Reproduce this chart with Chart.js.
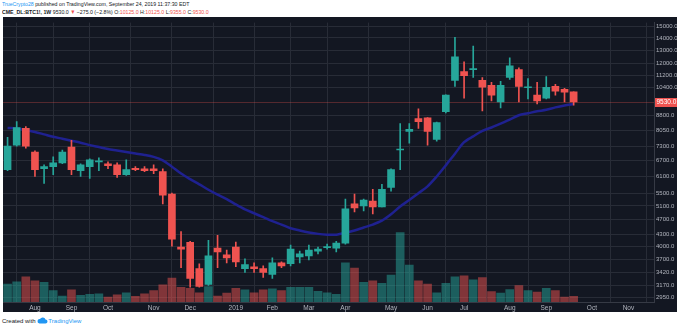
<!DOCTYPE html>
<html>
<head>
<meta charset="utf-8">
<script src="https://cdn.jsdelivr.net/npm/chart.js@4.4.1/dist/chart.umd.min.js"></script>
<style>
  html, body { margin: 0; padding: 0; background: #fff; }
  body { width: 680px; height: 328px; position: relative; overflow: hidden;
         font-family: "Liberation Sans", Arial, sans-serif; color: #131722; }
  #head1, #head2 { position: absolute; left: 2px; font-size: 6px; white-space: nowrap;
         transform: scaleX(0.87); transform-origin: left top; }
  #head1 { top: 1px; }
  #head2 { top: 9px; }
  #head1 .user { color: #2196f3; }
  #head2 b { font-weight: bold; }
  .dn { color: #ef5350; }
  #chart { position: absolute; left: 3px; top: 17px; }
  #foot { position: absolute; left: 2px; top: 317px; font-size: 6px; white-space: nowrap; }
  #foot .tv { color: #2196f3; }
  #foot svg { vertical-align: -1px; }
</style>
</head>
<body>
<div id="head1"><span class="user">TrueCrypto28</span> published on TradingView.com, September 24, 2019 11:37:30 EDT</div>
<div id="head2"><b>CME_DL:BTC1!, 1W</b> 9530.0 <span class="dn">▼</span> −275.0 (−2.8%) O:<span class="dn">10125.0</span> H:<span class="dn">10125.0</span> L:<span class="dn">9355.0</span> C:<span class="dn">9530.0</span></div>
<canvas id="chart" width="674" height="295"></canvas>
<div id="foot">Created with <svg width="11" height="7" viewBox="0 0 22 14"><path d="M5 13h12a4 4 0 0 0 0-8 6 6 0 0 0-11-1 4.5 4.5 0 0 0-1 9z" fill="#2196f3"/></svg><span class="tv">TradingView</span></div>

<script>
// weekly bars, CME bitcoin front month
const weeks = [
  '2018-07-16','2018-07-23','2018-07-30','2018-08-06','2018-08-13','2018-08-20','2018-08-27',
  '2018-09-03','2018-09-10','2018-09-17','2018-09-24','2018-10-01','2018-10-08','2018-10-15',
  '2018-10-22','2018-10-29','2018-11-05','2018-11-12','2018-11-19','2018-11-26','2018-12-03',
  '2018-12-10','2018-12-17','2018-12-24','2018-12-31','2019-01-07','2019-01-14','2019-01-21',
  '2019-01-28','2019-02-04','2019-02-11','2019-02-18','2019-02-25','2019-03-04','2019-03-11',
  '2019-03-18','2019-03-25','2019-04-01','2019-04-08','2019-04-15','2019-04-22','2019-04-29',
  '2019-05-06','2019-05-13','2019-05-20','2019-05-27','2019-06-03','2019-06-10','2019-06-17',
  '2019-06-24','2019-07-01','2019-07-08','2019-07-15','2019-07-22','2019-07-29','2019-08-05',
  '2019-08-12','2019-08-19','2019-08-26','2019-09-02','2019-09-09','2019-09-16','2019-09-23'
];
const opens = [
  6345, 7350, 8130, 7055, 6380, 6460, 6610, 7265, 6310, 6460,
  6650, 6575, 6535, 6160, 6400, 6380, 6380, 6270, 5475, 3985,
  4100, 3500, 3185, 3960, 3800, 3985, 3500, 3540, 3500, 3380,
  3625, 3605, 3755, 3780, 3890, 3970, 3960, 4080, 5165, 5100,
  5255, 5070, 5705, 7140, 7985, 8620, 8670, 7615, 8985, 10850,
  11440, 11575, 10850, 10535, 9530, 11040, 11575, 10380, 9930, 9755,
  10470, 10290, 10125
];
const highs = [
  7710, 8470, 8225, 7100, 6535, 6850, 7140, 7570, 6575, 6770,
  6810, 6650, 6610, 6730, 6460, 6460, 6535, 6380, 5510, 4375,
  4125, 3605, 4150, 4275, 3915, 4105, 3710, 3625, 3560, 3735,
  3645, 4030, 3890, 4030, 3985, 4055, 4125, 5315, 5475, 5315,
  5640, 5810, 6380, 8370, 8370, 9145, 8680, 8440, 9950, 14060,
  12135, 13330, 11040, 10720, 10785, 12425, 11710, 10975, 10720, 11105,
  10595, 10350, 10125
];
const lows = [
  6310, 7310, 7225, 6090, 5845, 6160, 6575, 6160, 6090, 6020,
  6310, 6380, 6055, 6125, 6310, 6270, 6195, 5165, 4005, 3520,
  3130, 3130, 3165, 3520, 3625, 3540, 3420, 3420, 3320, 3300,
  3520, 3560, 3625, 3690, 3825, 3935, 3870, 4055, 4925, 4955,
  4865, 5070, 5575, 6345, 7440, 8125, 7355, 7530, 8930, 10470,
  9755, 11040, 9035, 9585, 9200, 10910, 9530, 9700, 9415, 9700,
  9930, 9530, 9355
];
const closes = [
  7310, 8175, 7310, 6345, 6460, 6610, 7055, 6345, 6535, 6730,
  6690, 6495, 6160, 6345, 6345, 6310, 6310, 5445, 4175, 3935,
  3300, 3145, 3780, 3870, 3735, 3645, 3585, 3500, 3420, 3625,
  3560, 3935, 3825, 3915, 3935, 3985, 4080, 5015, 5040, 5285,
  5070, 5640, 6345, 7160, 8080, 8470, 7985, 8420, 9930, 12495,
  11170, 11640, 10410, 9930, 10535, 11850, 10470, 10410, 9585, 10410,
  10165, 10105, 9530
];
const volumes = [
  18400, 20700, 25700, 21700, 20000, 11700, 6000, 12400, 6700, 7700,
  8400, 5000, 7400, 9400, 5700, 8400, 11700, 17400, 24400, 15000,
  14000, 9400, 15700, 6000, 9000, 14000, 12400, 9400, 12400, 13400,
  11700, 15000, 15000, 15000, 11000, 9400, 7700, 40000, 34700, 20000,
  21700, 19000, 27400, 70700, 37700, 21700, 18400, 9400, 19000, 25700,
  26700, 22700, 25000, 10700, 9000, 12700, 16700, 11700, 10000, 14000,
  11700, 5000, 5700
];
const ma = [
  8150, 8127, 8055, 7960, 7845, 7730, 7640, 7550, 7460, 7353,
  7267, 7182, 7120, 7055, 6993, 6932, 6850, 6711, 6458, 6197,
  5993, 5808, 5624, 5460, 5317, 5148, 4998, 4882, 4768, 4657,
  4562, 4463, 4403, 4351, 4313, 4293, 4293, 4339, 4403, 4482,
  4562, 4670, 4853, 5087, 5286, 5508, 5741, 6089, 6511, 6985,
  7484, 7753, 8008, 8175, 8370, 8569, 8800, 8904, 9010, 9090,
  9225, 9334, 9417
];
const priceTicks = [15000, 14000, 13000, 12000, 11200, 10400, 8800, 8050, 7300, 6700,
  6100, 5500, 5100, 4700, 4300, 4000, 3700, 3420, 3170, 2950];
// week index of the first bar of each month
const monthTicks = [3, 7, 11, 16, 20, 25, 29, 33, 37, 42, 46, 50, 55, 59, 64, 68];
const monthLabels = ['Aug', 'Sep', 'Oct', 'Nov', 'Dec', '2019', 'Feb', 'Mar', 'Apr',
  'May', 'Jun', 'Jul', 'Aug', 'Sep', 'Oct', 'Nov'];

const UP = '#26a69a';
const DOWN = '#ef5350';
const BG = '#131722';
const GRID = '#282c37';
const TEXT = '#b2b5be';

const up = opens.map((o, i) => closes[i] >= o);
const candleColors = up.map(u => u ? UP : DOWN);
const volColors = up.map(u => u ? 'rgba(38,166,154,0.5)' : 'rgba(239,83,80,0.5)');
const last = closes.length - 1;

const background = {
  id: 'background',
  beforeDraw(chart) {
    const c = chart.ctx;
    c.save();
    c.fillStyle = BG;
    c.fillRect(0, 0, chart.width, chart.height);
    c.restore();
  }
};

// last price line behind the bars, tag on the price scale
const lastPrice = {
  id: 'lastPrice',
  beforeDatasetsDraw(chart) {
    const a = chart.chartArea;
    const y = Math.round(chart.scales.y.getPixelForValue(closes[last])) + 0.5;
    const c = chart.ctx;
    c.save();
    c.strokeStyle = 'rgba(239,83,80,0.3)';
    c.lineWidth = 1;
    c.beginPath();
    c.moveTo(a.left, y);
    c.lineTo(a.right, y);
    c.stroke();
    c.restore();
  },
  afterDraw(chart) {
    const a = chart.chartArea;
    const y = chart.scales.y.getPixelForValue(closes[last]);
    const c = chart.ctx;
    c.save();
    c.fillStyle = DOWN;
    c.fillRect(a.right + 1, Math.round(y) - 4, 22, 9);
    c.fillStyle = '#fff';
    c.font = '6.5px "Liberation Sans", Arial, sans-serif';
    c.textBaseline = 'middle';
    c.fillText(closes[last].toFixed(1), a.right + 2.5, Math.round(y) + 0.5);
    c.restore();
  }
};

new Chart(document.getElementById('chart'), {
  type: 'bar',
  data: {
    datasets: [
      {
        label: 'body',
        data: opens.map((o, i) => ({ x: i, y: [o, closes[i]] })),
        backgroundColor: candleColors,
        barThickness: 7,
        minBarLength: 1,
        grouped: false,
        order: 1
      },
      {
        label: 'wick',
        data: lows.map((l, i) => ({ x: i, y: [l, highs[i]] })),
        backgroundColor: candleColors,
        barThickness: 1,
        grouped: false,
        order: 2
      },
      {
        type: 'line',
        label: 'MA',
        data: ma.map((v, i) => ({ x: i, y: v })),
        borderColor: '#1f2190',
        borderWidth: 2.5,
        pointRadius: 0,
        tension: 0.3,
        order: 3
      },
      {
        label: 'Volume',
        data: volumes.map((v, i) => ({ x: i, y: v })),
        backgroundColor: volColors,
        barThickness: 8,
        grouped: false,
        yAxisID: 'vol',
        order: 4
      }
    ]
  },
  options: {
    responsive: false,
    animation: false,
    devicePixelRatio: 1,
    layout: { padding: 0 },
    plugins: { legend: { display: false }, tooltip: { enabled: false } },
    scales: {
      x: {
        type: 'linear',
        min: -0.5,
        max: 70.8,
        offset: false,
        afterBuildTicks(scale) {
          scale.ticks = monthTicks.map(v => ({ value: v }));
        },
        afterFit(scale) { scale.height = 10; },
        ticks: {
          autoSkip: false,
          maxRotation: 0,
          padding: 2,
          color: TEXT,
          font: { size: 6.5, family: '"Liberation Sans", Arial, sans-serif' },
          callback: (v, i) => monthLabels[i]
        },
        grid: { color: GRID, drawTicks: false },
        border: { color: '#363a45' }
      },
      y: {
        type: 'logarithmic',
        position: 'right',
        min: 2864,
        max: 15357,
        afterBuildTicks(scale) {
          scale.ticks = priceTicks.map(v => ({ value: v }));
        },
        afterFit(scale) { scale.width = 23; },
        ticks: {
          autoSkip: false,
          padding: 2,
          color: TEXT,
          font: { size: 6, family: '"Liberation Sans", Arial, sans-serif' },
          callback: v => Number(v).toFixed(1)
        },
        grid: { color: GRID, drawTicks: false },
        border: { color: '#363a45' }
      },
      vol: {
        type: 'linear',
        display: false,
        min: 0,
        max: 285000
      }
    }
  },
  plugins: [background, lastPrice]
});
</script>
</body>
</html>
